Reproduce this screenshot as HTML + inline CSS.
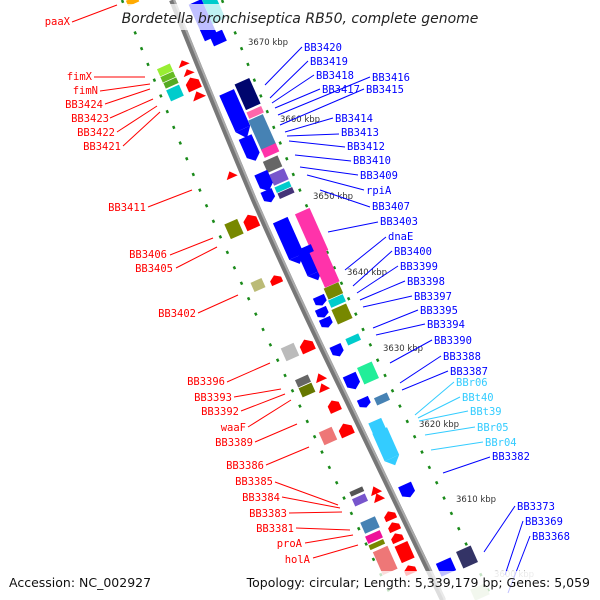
<!DOCTYPE html>
<html><head><meta charset="utf-8"><style>
html,body{margin:0;padding:0;background:#fff;width:600px;height:600px;overflow:hidden}
svg{display:block}
.r{fill:#f00;font-family:"DejaVu Sans Mono","Liberation Mono",monospace;font-size:10.5px;text-anchor:end}
.b{fill:#00f;font-family:"DejaVu Sans Mono","Liberation Mono",monospace;font-size:10.5px}
.c{fill:#3cf;font-family:"DejaVu Sans Mono","Liberation Mono",monospace;font-size:10.5px}
.k{fill:#333;font-family:"DejaVu Sans","Liberation Sans",sans-serif;font-size:8.5px}
</style></head><body>
<svg width="600" height="600" viewBox="0 0 600 600" xmlns="http://www.w3.org/2000/svg">
<!-- dotted rings -->
<path d="M122,0 Q162,100 204,200 Q248,300 297,400 Q345,500 393,600" fill="none" stroke="#1a8a1a" stroke-width="2.5" stroke-dasharray="3 14"/>
<path d="M222,0 Q262,100 304,200 Q348,300 397,400 Q445,500 493,600" fill="none" stroke="#1a8a1a" stroke-width="2.5" stroke-dasharray="3 14"/>
<!-- backbone -->
<path d="M172,0 Q212,100 254,200 Q298,300 347,400 Q395,500 443,600" fill="none" stroke="#777" stroke-width="6"/>
<path d="M174,0 Q214,100 256,200 Q300,300 349,400 Q397,500 445,600" fill="none" stroke="#aaa" stroke-width="2"/>
<!-- genes: forward (right) -->
<g>
<g transform="translate(204,22) rotate(-24)"><rect x="-7" y="-22" width="14" height="40" fill="#00f"/></g>
<g transform="translate(215,12) rotate(-24)"><rect x="-7" y="-20" width="14" height="30" fill="#0cc"/></g>
<g transform="translate(218,38) rotate(-24)"><rect x="-7" y="-6" width="14" height="12" fill="#00f"/></g>
<g transform="translate(238,118) rotate(-24)"><rect x="-8" y="-28" width="16" height="40" fill="#00f"/><polygon points="-8,12 8,12 0,22" fill="#00f"/></g>
<g transform="translate(250,148) rotate(-24)"><polygon points="-7,-12 7,-12 7,8 0,14 -7,8" fill="#00f"/></g>
<g transform="translate(248,95) rotate(-24)"><rect x="-8" y="-15" width="16" height="28" fill="#00066e"/></g>
<g transform="translate(255,112) rotate(-24)"><rect x="-8" y="-3" width="16" height="7" fill="#f6a"/></g>
<g transform="translate(262,132) rotate(-24)"><rect x="-8" y="-16" width="16" height="34" fill="#4682b4"/></g>
<g transform="translate(270,150) rotate(-24)"><rect x="-8" y="-4" width="16" height="9" fill="#f3a"/></g>
<g transform="translate(273,165) rotate(-24)"><rect x="-8" y="-7" width="16" height="12" fill="#666"/></g>
<g transform="translate(279,177) rotate(-24)"><rect x="-8" y="-6" width="16" height="12" fill="#75c"/></g>
<g transform="translate(283,187) rotate(-24)"><rect x="-8" y="-3" width="16" height="6" fill="#0cc"/></g>
<g transform="translate(286,193) rotate(-24)"><rect x="-8" y="-3" width="16" height="6" fill="#437"/></g>
<g transform="translate(264,180) rotate(-24)"><polygon points="-7,-8 7,-8 7,6 0,12 -7,6" fill="#00f"/></g>
<g transform="translate(268,195) rotate(-24)"><polygon points="-6,-5 6,-5 6,4 0,8 -6,4" fill="#00f"/></g>
<g transform="translate(290,242) rotate(-24)"><rect x="-8" y="-24" width="16" height="40" fill="#00f"/><polygon points="-8,16 8,16 0,24" fill="#00f"/></g>
<g transform="translate(312,233) rotate(-24)"><rect x="-8" y="-24" width="16" height="46" fill="#f3a"/></g>
<g transform="translate(310,262) rotate(-24)"><rect x="-8" y="-16" width="16" height="28" fill="#00f"/><polygon points="-8,12 8,12 0,20" fill="#00f"/></g>
<g transform="translate(325,268) rotate(-24)"><rect x="-8" y="-20" width="16" height="38" fill="#f3a"/></g>
<g transform="translate(333,290) rotate(-24)"><rect x="-8" y="-5" width="16" height="12" fill="#780"/></g>
<g transform="translate(337,301) rotate(-24)"><rect x="-8" y="-4" width="16" height="8" fill="#0cc"/></g>
<g transform="translate(342,314) rotate(-24)"><rect x="-8" y="-8" width="16" height="16" fill="#780"/></g>
<g transform="translate(320,300) rotate(-24)"><polygon points="-6,-4 6,-4 6,3 0,6 -6,3" fill="#00f"/></g>
<g transform="translate(322,312) rotate(-24)"><polygon points="-6,-4 6,-4 6,3 0,6 -6,3" fill="#00f"/></g>
<g transform="translate(326,322) rotate(-24)"><polygon points="-6,-4 6,-4 6,3 0,6 -6,3" fill="#00f"/></g>
<g transform="translate(353,339) rotate(-24)"><rect x="-7" y="-3" width="14" height="7" fill="#0cc"/></g>
<g transform="translate(337,350) rotate(-24)"><polygon points="-6,-5 6,-5 6,3 0,7 -6,3" fill="#00f"/></g>
<g transform="translate(368,373) rotate(-24)"><rect x="-8" y="-9" width="16" height="18" fill="#2e9"/></g>
<g transform="translate(352,381) rotate(-24)"><polygon points="-7,-7 7,-7 7,4 0,9 -7,4" fill="#00f"/></g>
<g transform="translate(382,399) rotate(-24)"><rect x="-7" y="-4" width="14" height="8" fill="#4682b4"/></g>
<g transform="translate(364,402) rotate(-24)"><polygon points="-6,-4 6,-4 6,3 0,6 -6,3" fill="#00f"/></g>
<g transform="translate(387,447) rotate(-24)"><rect x="-8" y="-18" width="16" height="30" fill="#3cf"/><polygon points="-8,12 8,12 0,20" fill="#3cf"/></g>
<g transform="translate(378,428) rotate(-24)"><rect x="-7" y="-8" width="14" height="12" fill="#3cf"/></g>
<g transform="translate(407,490) rotate(-24)"><polygon points="-7,-6 7,-6 7,4 0,8 -7,4" fill="#00f"/></g>
<g transform="translate(467,557) rotate(-24)"><rect x="-8" y="-9" width="16" height="18" fill="#336"/></g>
<g transform="translate(446,567) rotate(-24)"><rect x="-8" y="-7" width="16" height="14" fill="#00f"/></g>
<g transform="translate(480,592) rotate(-24)"><rect x="-8" y="-6" width="16" height="12" fill="#cdb"/></g>
</g>
<!-- genes: reverse (left) -->
<g>
<g transform="translate(165,70) rotate(-24)"><rect x="-7" y="-4" width="14" height="8" fill="#9e3"/></g>
<g transform="translate(168,77) rotate(-24)"><rect x="-7" y="-3" width="14" height="6" fill="#6b2"/></g>
<g transform="translate(171,83) rotate(-24)"><rect x="-7" y="-3" width="14" height="6" fill="#5a2"/></g>
<g transform="translate(175,93) rotate(-24)"><rect x="-7" y="-6" width="14" height="12" fill="#0cc"/></g>
<g transform="translate(183,63) rotate(-24)"><polygon points="-6,3 6,3 0,-3" fill="#f00"/></g>
<g transform="translate(188,72) rotate(-24)"><polygon points="-6,3 6,3 0,-3" fill="#f00"/></g>
<g transform="translate(193,84) rotate(-24)"><polygon points="-7,6 7,6 7,-2 0,-7 -7,-2" fill="#f00"/></g>
<g transform="translate(198,95) rotate(-24)"><polygon points="-7,4 7,4 0,-4" fill="#f00"/></g>
<g transform="translate(231,175) rotate(-24)"><polygon points="-6,3 6,3 0,-4" fill="#f00"/></g>
<g transform="translate(234,229) rotate(-24)"><rect x="-7" y="-8" width="14" height="16" fill="#780"/></g>
<g transform="translate(251,222) rotate(-24)"><polygon points="-7,7 7,7 7,-3 0,-8 -7,-3" fill="#f00"/></g>
<g transform="translate(258,285) rotate(-24)"><rect x="-6" y="-5" width="12" height="10" fill="#bb7"/></g>
<g transform="translate(276,280) rotate(-24)"><polygon points="-6,4 6,4 6,-1 0,-5 -6,-1" fill="#f00"/></g>
<g transform="translate(290,352) rotate(-24)"><rect x="-7" y="-7" width="14" height="14" fill="#bbb"/></g>
<g transform="translate(307,346) rotate(-24)"><polygon points="-7,6 7,6 7,-2 0,-7 -7,-2" fill="#f00"/></g>
<g transform="translate(303,381) rotate(-24)"><rect x="-7" y="-4" width="14" height="8" fill="#666"/></g>
<g transform="translate(307,390) rotate(-24)"><rect x="-7" y="-5" width="14" height="10" fill="#670"/></g>
<g transform="translate(320,377) rotate(-24)"><polygon points="-6,4 6,4 0,-4" fill="#f00"/></g>
<g transform="translate(323,387) rotate(-24)"><polygon points="-6,4 6,4 0,-4" fill="#f00"/></g>
<g transform="translate(334,406) rotate(-24)"><polygon points="-6,6 6,6 6,-2 0,-6 -6,-2" fill="#f00"/></g>
<g transform="translate(328,436) rotate(-24)"><rect x="-7" y="-7" width="14" height="14" fill="#e77"/></g>
<g transform="translate(346,430) rotate(-24)"><polygon points="-7,6 7,6 7,-2 0,-7 -7,-2" fill="#f00"/></g>
<g transform="translate(357,492) rotate(-24)"><rect x="-7" y="-3" width="14" height="5" fill="#555"/></g>
<g transform="translate(360,500) rotate(-24)"><rect x="-7" y="-4" width="14" height="8" fill="#75c"/></g>
<g transform="translate(375,490) rotate(-24)"><polygon points="-6,4 6,4 0,-4" fill="#f00"/></g>
<g transform="translate(378,497) rotate(-24)"><polygon points="-6,4 6,4 0,-4" fill="#f00"/></g>
<g transform="translate(370,525) rotate(-24)"><rect x="-8" y="-6" width="16" height="12" fill="#4682b4"/></g>
<g transform="translate(374,537) rotate(-24)"><rect x="-8" y="-4" width="16" height="8" fill="#e19"/></g>
<g transform="translate(377,545) rotate(-24)"><rect x="-8" y="-3" width="16" height="5" fill="#780"/></g>
<g transform="translate(385,560) rotate(-24)"><rect x="-8" y="-12" width="16" height="25" fill="#e77"/></g>
<g transform="translate(390,516) rotate(-24)"><polygon points="-6,4 6,4 6,-1 0,-5 -6,-1" fill="#f00"/></g>
<g transform="translate(394,527) rotate(-24)"><polygon points="-6,4 6,4 6,-1 0,-5 -6,-1" fill="#f00"/></g>
<g transform="translate(397,538) rotate(-24)"><polygon points="-6,4 6,4 6,-1 0,-5 -6,-1" fill="#f00"/></g>
<g transform="translate(405,553) rotate(-24)"><rect x="-7" y="-10" width="14" height="18" fill="#f00"/></g>
<g transform="translate(410,570) rotate(-24)"><polygon points="-6,4 6,4 6,-1 0,-5 -6,-1" fill="#f00"/></g>
<g transform="translate(133,2) rotate(-24)"><rect x="-6" y="-4" width="12" height="6" fill="#fa0"/></g>
</g>
<!-- kbp -->
<text class="k" x="248" y="45">3670 kbp</text>
<text class="k" x="280" y="122">3660 kbp</text>
<text class="k" x="313" y="199">3650 kbp</text>
<text class="k" x="347" y="275">3640 kbp</text>
<text class="k" x="383" y="351">3630 kbp</text>
<text class="k" x="419" y="427">3620 kbp</text>
<text class="k" x="456" y="502">3610 kbp</text>
<text class="k" x="494" y="577" opacity="0.4">3600 kbp</text>
<!-- right leaders -->
<g stroke="#00f" stroke-width="1">
<line x1="265" y1="85" x2="302" y2="47"/><line x1="270" y1="98" x2="308" y2="61"/>
<line x1="272" y1="103" x2="314" y2="75"/><line x1="275" y1="108" x2="320" y2="89"/>
<line x1="278" y1="115" x2="370" y2="77"/><line x1="280" y1="125" x2="364" y2="89"/>
<line x1="285" y1="132" x2="333" y2="118"/><line x1="287" y1="136" x2="339" y2="134"/>
<line x1="289" y1="141" x2="345" y2="147"/><line x1="295" y1="155" x2="351" y2="161"/>
<line x1="300" y1="167" x2="358" y2="175"/><line x1="307" y1="175" x2="364" y2="190"/>
<line x1="320" y1="190" x2="370" y2="207"/><line x1="328" y1="232" x2="378" y2="222"/>
<line x1="345" y1="270" x2="386" y2="237"/><line x1="353" y1="286" x2="392" y2="251"/>
<line x1="357" y1="293" x2="398" y2="266"/><line x1="360" y1="300" x2="405" y2="281"/>
<line x1="363" y1="307" x2="412" y2="296"/><line x1="373" y1="328" x2="418" y2="310"/>
<line x1="376" y1="335" x2="425" y2="324"/><line x1="390" y1="363" x2="432" y2="340"/>
<line x1="400" y1="383" x2="441" y2="356"/><line x1="402" y1="390" x2="448" y2="371"/>
<line x1="443" y1="473" x2="490" y2="457"/><line x1="484" y1="552" x2="515" y2="506"/>
<line x1="505" y1="575" x2="523" y2="521"/><line x1="508" y1="593" x2="530" y2="536"/>
</g>
<g stroke="#3cf" stroke-width="1">
<line x1="415" y1="415" x2="454" y2="382"/><line x1="418" y1="418" x2="460" y2="397"/>
<line x1="419" y1="421" x2="468" y2="411"/><line x1="425" y1="435" x2="475" y2="427"/>
<line x1="431" y1="450" x2="483" y2="442"/>
</g>
<text class="b" x="304" y="51">BB3420</text><text class="b" x="310" y="65">BB3419</text>
<text class="b" x="316" y="79">BB3418</text><text class="b" x="322" y="93">BB3417</text>
<text class="b" x="372" y="81">BB3416</text><text class="b" x="366" y="93">BB3415</text>
<text class="b" x="335" y="122">BB3414</text><text class="b" x="341" y="136">BB3413</text>
<text class="b" x="347" y="150">BB3412</text><text class="b" x="353" y="164">BB3410</text>
<text class="b" x="360" y="179">BB3409</text><text class="b" x="366" y="194">rpiA</text>
<text class="b" x="372" y="210">BB3407</text><text class="b" x="380" y="225">BB3403</text>
<text class="b" x="388" y="240">dnaE</text><text class="b" x="394" y="255">BB3400</text>
<text class="b" x="400" y="270">BB3399</text><text class="b" x="407" y="285">BB3398</text>
<text class="b" x="414" y="300">BB3397</text><text class="b" x="420" y="314">BB3395</text>
<text class="b" x="427" y="328">BB3394</text><text class="b" x="434" y="344">BB3390</text>
<text class="b" x="443" y="360">BB3388</text><text class="b" x="450" y="375">BB3387</text>
<text class="c" x="456" y="386">BBr06</text><text class="c" x="462" y="401">BBt40</text>
<text class="c" x="470" y="415">BBt39</text><text class="c" x="477" y="431">BBr05</text>
<text class="c" x="485" y="446">BBr04</text><text class="b" x="492" y="460">BB3382</text>
<text class="b" x="517" y="510">BB3373</text><text class="b" x="525" y="525">BB3369</text>
<text class="b" x="532" y="540">BB3368</text>
<!-- left leaders -->
<g stroke="#f00" stroke-width="1">
<line x1="72" y1="22" x2="117" y2="5"/><line x1="94" y1="77" x2="145" y2="77"/>
<line x1="100" y1="91" x2="150" y2="84"/><line x1="105" y1="104" x2="150" y2="89"/>
<line x1="110" y1="118" x2="153" y2="99"/><line x1="117" y1="132" x2="157" y2="106"/>
<line x1="123" y1="146" x2="160" y2="112"/><line x1="148" y1="207" x2="192" y2="190"/>
<line x1="170" y1="255" x2="213" y2="238"/><line x1="176" y1="268" x2="217" y2="247"/>
<line x1="198" y1="313" x2="238" y2="295"/><line x1="227" y1="382" x2="270" y2="363"/>
<line x1="234" y1="397" x2="281" y2="389"/><line x1="241" y1="411" x2="285" y2="394"/>
<line x1="248" y1="427" x2="291" y2="400"/><line x1="255" y1="442" x2="297" y2="424"/>
<line x1="266" y1="465" x2="309" y2="447"/><line x1="275" y1="482" x2="338" y2="505"/>
<line x1="282" y1="497" x2="340" y2="508"/><line x1="289" y1="513" x2="342" y2="512"/>
<line x1="296" y1="528" x2="350" y2="530"/><line x1="305" y1="543" x2="353" y2="535"/>
<line x1="313" y1="558" x2="358" y2="545"/>
</g>
<text class="r" x="70" y="25">paaX</text><text class="r" x="92" y="80">fimX</text>
<text class="r" x="98" y="94">fimN</text><text class="r" x="103" y="108">BB3424</text>
<text class="r" x="109" y="122">BB3423</text><text class="r" x="115" y="136">BB3422</text>
<text class="r" x="121" y="150">BB3421</text><text class="r" x="146" y="211">BB3411</text>
<text class="r" x="167" y="258">BB3406</text><text class="r" x="173" y="272">BB3405</text>
<text class="r" x="196" y="317">BB3402</text><text class="r" x="225" y="385">BB3396</text>
<text class="r" x="232" y="401">BB3393</text><text class="r" x="239" y="415">BB3392</text>
<text class="r" x="246" y="431">waaF</text><text class="r" x="253" y="446">BB3389</text>
<text class="r" x="264" y="469">BB3386</text><text class="r" x="273" y="485">BB3385</text>
<text class="r" x="280" y="501">BB3384</text><text class="r" x="287" y="517">BB3383</text>
<text class="r" x="294" y="532">BB3381</text><text class="r" x="302" y="547">proA</text>
<text class="r" x="310" y="563">holA</text>
<!-- title / footer bands -->
<rect x="122" y="4" width="356" height="26" fill="#fff" opacity="0.75"/>
<text x="300" y="23" text-anchor="middle" font-family="'DejaVu Sans','Liberation Sans',sans-serif" font-style="italic" font-size="14" fill="#222">Bordetella bronchiseptica RB50, complete genome</text>
<rect x="0" y="571" width="600" height="29" fill="#fff" opacity="0.75"/>
<text x="9" y="587" font-family="'DejaVu Sans','Liberation Sans',sans-serif" font-size="12.5" fill="#111">Accession: NC_002927</text>
<text x="590" y="587" text-anchor="end" font-family="'DejaVu Sans','Liberation Sans',sans-serif" font-size="12.5" fill="#111">Topology: circular; Length: 5,339,179 bp; Genes: 5,059</text>
</svg>
</body></html>
